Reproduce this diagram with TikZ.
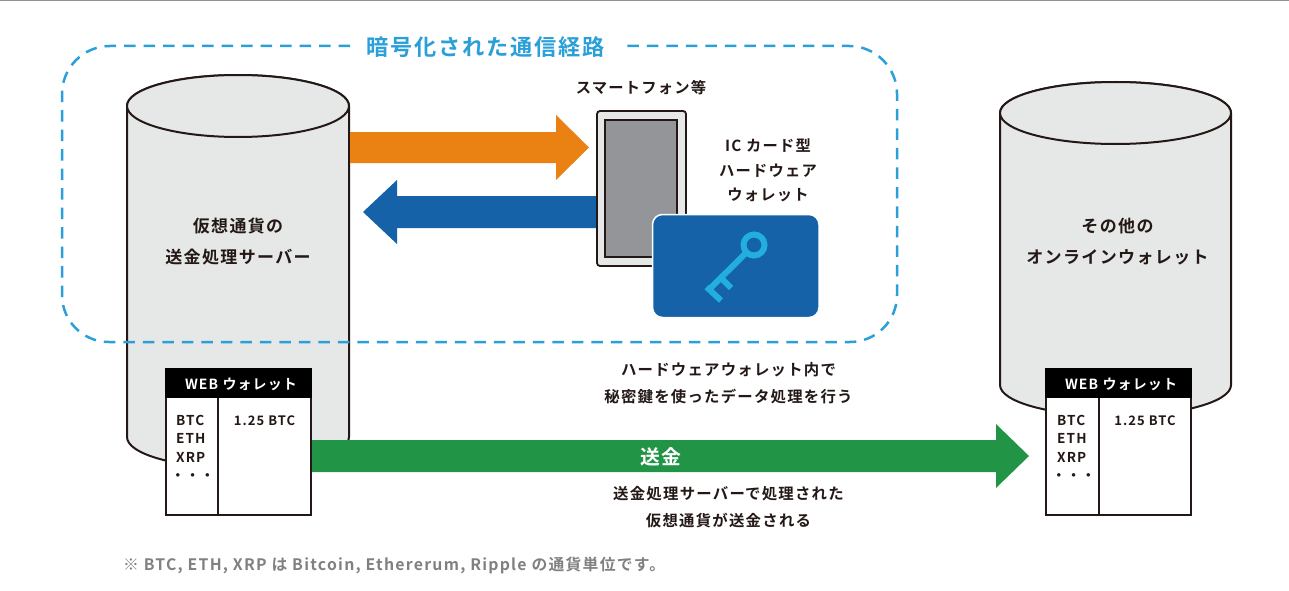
\documentclass[tikz,border=0pt]{standalone}
\usepackage{fontspec}
\setmainfont{Noto Sans CJK JP}[BoldFont={* Bold},LetterSpace=8]
\definecolor{ink}{HTML}{231815}
\definecolor{cyl}{HTML}{E6E8E7}
\definecolor{dashblue}{HTML}{2A9FD8}
\definecolor{orangeA}{HTML}{E98212}
\definecolor{blueA}{HTML}{1562A9}
\definecolor{greenA}{HTML}{229446}
\definecolor{screen}{HTML}{939598}
\definecolor{keyblue}{HTML}{22AEDF}
\newcommand{\waldots}{\hspace*{-5pt}・・・}
\tikzset{
  lbl/.style={font=\bfseries\fontsize{17}{31}\selectfont, text=ink, align=center, inner sep=0pt},
  small/.style={font=\bfseries\fontsize{15.3}{24.5}\selectfont, text=ink, align=center, inner sep=0pt},
  smallwide/.style={font=\bfseries\fontsize{15.4}{26.5}\selectfont, text=ink, align=center, inner sep=0pt},
  wal/.style={font=\bfseries\fontsize{13.6}{18.3}\selectfont, text=ink, align=left, inner sep=0pt, anchor=north west},
  walhead/.style={font=\bfseries\fontsize{14}{16}\selectfont, text=white, inner sep=0pt},
  cylline/.style={draw=ink, line width=2pt, fill=cyl},
  walbox/.style={draw=ink, line width=2pt, fill=white},
}
\begin{document}
\begin{tikzpicture}[x=1pt,y=-1pt]
\useasboundingbox (0,0) rectangle (1289,591);
\fill[gray!85] (0,0) rectangle (1289,1);
% left cylinder
\draw[cylline] (127,106) -- (127,437) arc[start angle=180,end angle=0,x radius=111,y radius=31] -- (349,106) arc[start angle=0,end angle=-180,x radius=111,y radius=31];
\draw[cylline] (238,106) ellipse[x radius=111,y radius=31];
% right cylinder
\draw[cylline] (1000,113) -- (1000,385) arc[start angle=180,end angle=0,x radius=115.5,y radius=31] -- (1231,113) arc[start angle=0,end angle=-180,x radius=115.5,y radius=31];
\draw[cylline] (1115.5,113) ellipse[x radius=115.5,y radius=31];
% dashed region
\draw[dashblue,line width=2.5pt,dash pattern=on 11.5pt off 8pt] (350,46) -- (110,46) arc[start angle=270,end angle=180,radius=48] -- (62,295) arc[start angle=180,end angle=90,radius=47] -- (850,342) arc[start angle=90,end angle=0,radius=47] -- (897,94) arc[start angle=0,end angle=-90,radius=48] -- (620,46);
\node[font=\bfseries\fontsize{22.2}{26}\selectfont,text=dashblue,inner sep=0pt] (title) at (485.5,47) {暗号化された通信経路};
% arrows
\fill[orangeA] (350,132) -- (556,132) -- (556,115) -- (589,147.5) -- (556,180) -- (556,163) -- (350,163) -- cycle;
\fill[blueA] (600,196) -- (397,196) -- (397,180) -- (363,212) -- (397,244) -- (397,228) -- (600,228) -- cycle;
\fill[greenA] (311,440) -- (996,440) -- (996,424) -- (1029,456) -- (996,488) -- (996,472) -- (311,472) -- cycle;
% phone
\draw[draw=ink,line width=1.8pt,fill=cyl,rounded corners=3pt] (597,111) rectangle (686,266);
\draw[draw=ink,line width=1.8pt,fill=screen] (605,120) rectangle (677,257);
% card
\draw[draw=white,line width=1.5pt,fill=blueA,rounded corners=10pt] (652.5,214.5) rectangle (819,317.5);
% key
\draw[keyblue,line width=6pt] (754,245) circle[radius=10.5];
\draw[keyblue,line width=6pt] (746.5,252.5) -- (709,289.5);
\draw[keyblue,line width=6pt] (706.5,287) -- (721,300.5);
\draw[keyblue,line width=6pt] (720,277) -- (731,288);
% wallets
\draw[walbox] (166,369) rectangle (311,515);
\fill[black] (165,368) rectangle (312,398);
\draw[ink,line width=2pt] (218,398) -- (218,515);
\node[walhead] (wh1) at (241,384) {WEB ウォレット};
\node[wal] (wa1) at (176,415) {BTC\\ETH\\XRP\\\waldots};
\node[wal,anchor=north,font=\bfseries\fontsize{13}{18}\selectfont] (wb1) at (264.5,415) {1.25 BTC};
\draw[walbox] (1046,369) rectangle (1191,515);
\fill[black] (1045,368) rectangle (1192,398);
\draw[ink,line width=2pt] (1099,398) -- (1099,515);
\node[walhead] (wh2) at (1121,384) {WEB ウォレット};
\node[wal] (wa2) at (1057,415) {BTC\\ETH\\XRP\\\waldots};
\node[wal,anchor=north,font=\bfseries\fontsize{13}{18}\selectfont] (wb2) at (1145,415) {1.25 BTC};
% labels
\node[lbl] (srv) at (238,241.5) {仮想通貨の\\送金処理サーバー};
\node[lbl] (oth) at (1117.5,241.5) {その他の\\オンラインウォレット};
\node[small] (sp) at (641,88) {スマートフォン等};
\node[small] (ic) at (768,170.5) {IC カード型\\ハードウェア\\ウォレット};
\node[smallwide] (hw) at (728.5,383) {ハードウェアウォレット内で\\秘密鍵を使ったデータ処理を行う};
\node[font=\bfseries\fontsize{19.8}{22}\selectfont,text=white,inner sep=0pt] (send) at (661,457) {送金};
\node[smallwide] (sd) at (728.5,507) {送金処理サーバーで処理された\\仮想通貨が送金される};
\node[font=\bfseries\fontsize{15.8}{18}\selectfont,text=gray,inner sep=0pt,anchor=west] (note) at (123,565) {※ BTC, ETH, XRP は Bitcoin, Ethererum, Ripple の通貨単位です。};
\end{tikzpicture}
\end{document}
